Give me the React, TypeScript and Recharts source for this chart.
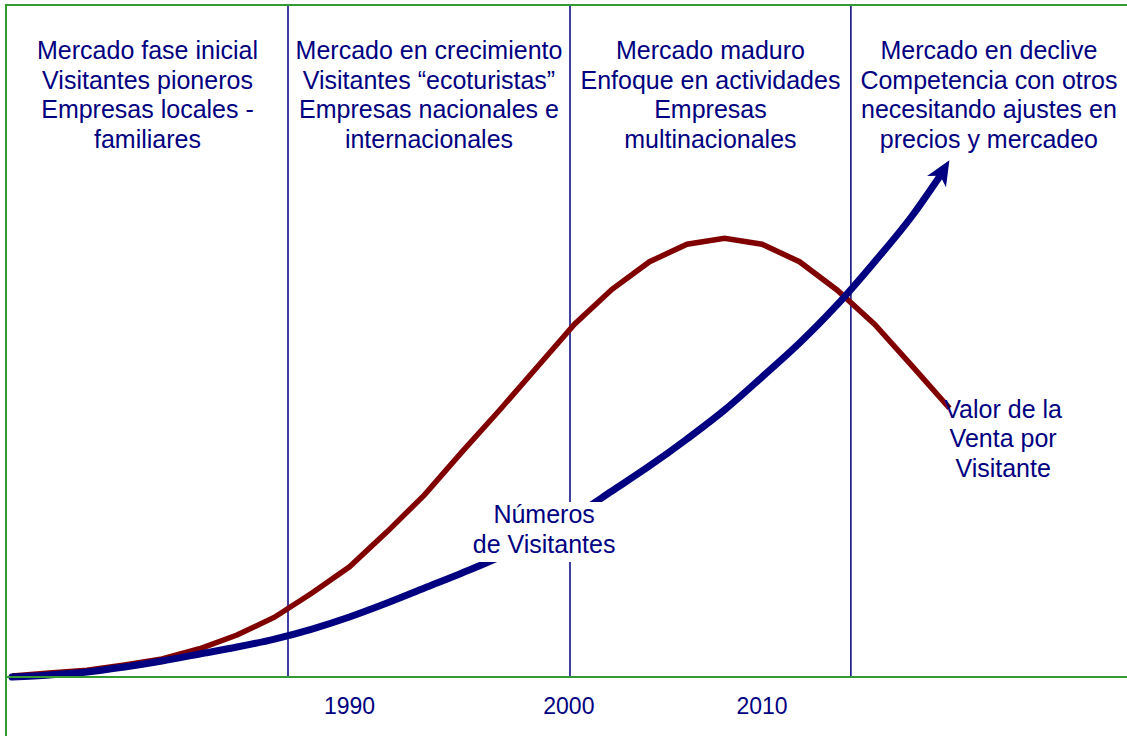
import React from 'react';
import { ComposedChart, Line, XAxis, YAxis, ReferenceLine, ReferenceArea } from 'recharts';

// x positions (periods on a uniform grid)
const periodos = [0, 1, 2, 3, 4, 5, 6, 7, 8, 9, 10, 11, 12, 13, 14, 15, 16, 17, 18, 19, 20, 21, 22, 23, 24, 25];
// Valor de la Venta por Visitante
const valorVenta = [0.15, 0.6, 1.0, 1.8, 2.7, 4.2, 6.25, 8.9, 12.5, 16.4, 21.6, 27.1, 33.5, 39.7, 46.1, 52.5, 57.7, 61.8, 64.4, 65.3, 64.4, 61.8, 57.6, 52.5, 46.3, 40.0];
// Números de Visitantes
const visitantes = [0, 0.3, 0.74, 1.49, 2.38, 3.42, 4.46, 5.65, 7.14, 8.93, 11.0, 13.24, 15.48, 17.86, 20.68, 24.0, 27.68, 31.4, 35.42, 39.73, 44.64, 49.7, 55.36, 61.76, 68.6];
const visitantesFinPeriodo = 24.75;
const visitantesFinValor = 74.6;

// phase boundaries and tick labels
const limitesFase = [7.36, 14.88, 22.37];
const tickPos = [9, 14.85, 20];
const tickLabels = ['1990', '2000', '2010'];
const xDomain: [number, number] = [-0.1333, 29.733];

const fases = [
  ['Mercado fase inicial', 'Visitantes pioneros', 'Empresas locales -', 'familiares'],
  ['Mercado en crecimiento', 'Visitantes \u201Cecoturistas\u201D', 'Empresas nacionales e', 'internacionales'],
  ['Mercado maduro', 'Enfoque en actividades', 'Empresas', 'multinacionales'],
  ['Mercado en declive', 'Competencia con otros', 'necesitando ajustes en', 'precios y mercadeo'],
];

// series annotations (anchor in data coordinates)
const etiquetaPeriodos = [14.19, 26.43];
const etiquetaValores = [21.8, 35.3];
const etiquetaTextos = [
  ['Números', 'de Visitantes'],
  ['Valor de la', 'Venta por', 'Visitante'],
];

const NAVY = '#000080';
const RED = '#800000';
const GREEN = '#339933';
const FONT = '"Liberation Sans", Arial, sans-serif';
const FS = 25;

const rows: any[] = periodos.map((p, k) => ({
  p,
  valor: valorVenta[k],
  visit: k < visitantes.length ? visitantes[k] : null,
}));
rows.push({ p: visitantesFinPeriodo, valor: null, visit: visitantesFinValor });
etiquetaPeriodos.forEach((p, k) => rows.push({ p, valor: null, visit: null, etiqueta: etiquetaValores[k], etiquetaIdx: k }));
const data = rows.sort((a, b) => a.p - b.p);

const multiLabel = (lines: string[], offsetTop: number, step: number, fontSize: number) => (props: any) => {
  const vb = props.viewBox || props;
  const cx = vb.x + vb.width / 2;
  return (
    <text textAnchor="middle" fill={NAVY} fontSize={fontSize} fontFamily={FONT}>
      {lines.map((l, i) => (
        <tspan key={i} x={cx} y={vb.y + offsetTop + i * step}>
          {l}
        </tspan>
      ))}
    </text>
  );
};

const ArrowDot = (props: any) => {
  const { cx, cy, index, points, payload } = props;
  if (!payload || payload.p !== visitantesFinPeriodo || cx == null || cy == null) return <g key={`d${index}`} />;
  let ang = -55;
  if (points && points.length > 1) {
    const valid = points.filter((pt: any) => pt.y != null && !isNaN(pt.y));
    const a = valid[valid.length - 2];
    const b = valid[valid.length - 1];
    if (a && b) ang = (Math.atan2(b.y - a.y, b.x - a.x) * 180) / Math.PI - 4;
  }
  return (
    <g key={`d${index}`} transform={`translate(${cx},${cy}) rotate(${ang})`}>
      <polygon points="18,0 -7,-11 0,0 -7,11" fill={NAVY} />
    </g>
  );
};

const LabelDot = (props: any) => {
  const { cx, cy, index, payload } = props;
  if (!payload || payload.etiqueta == null || cx == null || cy == null) return <g key={`l${index}`} />;
  const k = payload.etiquetaIdx;
  const lines = etiquetaTextos[k];
  const step = 29.5;
  const top = cy - (lines.length * step) / 2;
  return (
    <g key={`l${index}`}>
      {k === 0 && <rect x={cx - 72} y={top + 1} width={144} height={60} fill="#ffffff" />}
      <text textAnchor="middle" fill={NAVY} fontSize={FS} fontFamily={FONT}>
        {lines.map((l, i) => (
          <tspan key={i} x={cx} y={top + 22 + i * step}>
            {l}
          </tspan>
        ))}
      </text>
    </g>
  );
};

const Tick = (props: any) => {
  const { x, y, payload } = props;
  const i = tickPos.indexOf(payload.value);
  return (
    <text x={x} y={y + 37} textAnchor="middle" fill={NAVY} fontSize={23} fontFamily={FONT}>
      {tickLabels[i]}
    </text>
  );
};

export default function App() {
  const bounds = [xDomain[0], ...limitesFase, xDomain[1]];
  return (
    <div style={{ position: 'absolute', left: 0, top: 0, width: 1127, height: 736, background: '#fff' }}>
      <ComposedChart width={1127} height={736} data={data} margin={{ top: 5, right: 0, bottom: 0, left: 7 }}>
        <XAxis
          dataKey="p"
          type="number"
          domain={xDomain}
          ticks={tickPos}
          height={59}
          tickSize={0}
          tickMargin={0}
          tickLine={false}
          axisLine={{ stroke: GREEN, strokeWidth: 2 }}
          tick={<Tick />}
          interval={0}
        />
        <YAxis hide domain={[0, 100]} type="number" />
        {limitesFase.map((b, i) => (
          <ReferenceLine key={i} x={b} stroke={NAVY} strokeWidth={1.5} />
        ))}
        {fases.map((lines, i) => (
          <ReferenceArea
            key={`f${i}`}
            x1={bounds[i]}
            x2={bounds[i + 1]}
            y1={0}
            y2={100}
            fill="none"
            fillOpacity={0}
            strokeOpacity={0}
            label={multiLabel(lines, 54, 29.5, FS)}
          />
        ))}
        <Line
          dataKey="valor"
          type="linear"
          stroke={RED}
          strokeWidth={5.5}
          dot={false}
          activeDot={false}
          connectNulls
          isAnimationActive={false}
        />
        <Line
          dataKey="visit"
          type="monotone"
          stroke={NAVY}
          strokeWidth={7}
          strokeLinecap="round"
          dot={<ArrowDot />}
          activeDot={false}
          connectNulls
          isAnimationActive={false}
        />
        <Line
          dataKey="etiqueta"
          stroke="none"
          dot={<LabelDot />}
          activeDot={false}
          legendType="none"
          isAnimationActive={false}
        />
      </ComposedChart>
      <div
        style={{
          position: 'absolute',
          left: 5,
          top: 4,
          width: 1122,
          height: 732,
          borderLeft: `2px solid ${GREEN}`,
          borderTop: `2px solid ${GREEN}`,
          boxSizing: 'border-box',
          pointerEvents: 'none',
        }}
      />
    </div>
  );
}
